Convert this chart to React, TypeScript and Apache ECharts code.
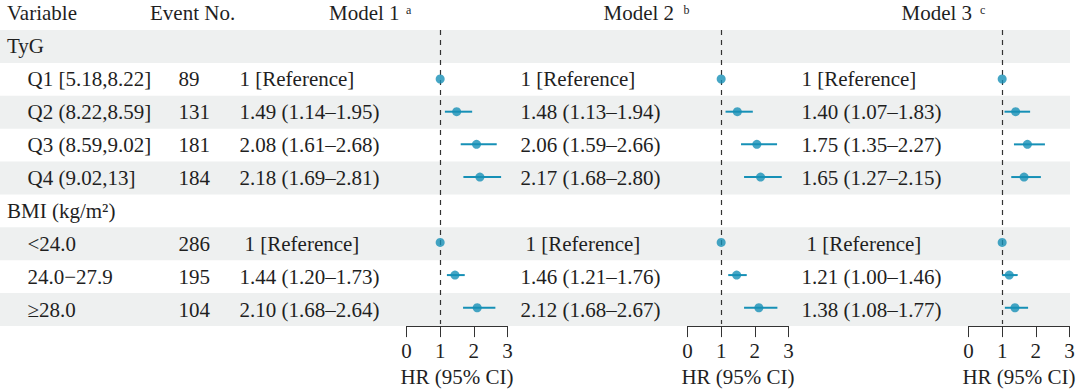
import React, { useEffect, useRef } from "react";
import * as echarts from "echarts";

// ---------- data ----------
const rowLabels = [
  "TyG",
  "Q1 [5.18,8.22]",
  "Q2 (8.22,8.59]",
  "Q3 (8.59,9.02]",
  "Q4 (9.02,13]",
  "BMI (kg/m²)",
  "<24.0",
  "24.0−27.9",
  "≥28.0",
];
const headerRows = [true, false, false, false, false, true, false, false, false];
const eventNo = [null, 89, 131, 181, 184, null, 286, 195, 104];

const model1HR = [null, 1, 1.49, 2.08, 2.18, null, 1, 1.44, 2.1];
const model1Low = [null, null, 1.14, 1.61, 1.69, null, null, 1.2, 1.68];
const model1High = [null, null, 1.95, 2.68, 2.81, null, null, 1.73, 2.64];

const model2HR = [null, 1, 1.48, 2.06, 2.17, null, 1, 1.46, 2.12];
const model2Low = [null, null, 1.13, 1.59, 1.68, null, null, 1.21, 1.68];
const model2High = [null, null, 1.94, 2.66, 2.8, null, null, 1.76, 2.67];

const model3HR = [null, 1, 1.4, 1.75, 1.65, null, 1, 1.21, 1.38];
const model3Low = [null, null, 1.07, 1.35, 1.27, null, null, 1.0, 1.08];
const model3High = [null, null, 1.83, 2.27, 2.15, null, null, 1.46, 1.77];

const modelNames = ["Model 1", "Model 2", "Model 3"];
const modelNotes = ["a", "b", "c"];
const columnTitles = ["Variable", "Event No."];
const hrTicks = [0, 1, 2, 3];
const axisTitle = "HR (95% CI)";
const referenceText = "1 [Reference]";

// ---------- layout ----------
const W = 1080;
const H = 392;
const GRID_TOP = 30;
const GRID_H = 296;
const TABLE_RIGHT = 1070;
const PANEL_LEFT = [406.5, 687.5, 968.5];
const PANEL_W = 101;
const HR_TEXT_X = [239.5, 520.5, 801.5];
const BMI_REF_SHIFT = 5;
const LABEL_X_HEAD = 7;
const LABEL_X_SUB = 27.5;
const EVENT_X = 178.5;
const MODEL_TITLE_X = [329, 603.5, 901.5];
const NOTE_X = [406, 683.5, 980];
const FS = 21;
const FONT = "Liberation Serif, serif";
const TEXT = "#1f1f1f";
const BLUE = "#1690b6";
const BAND = "#eef0f0";

const models = [
  { hr: model1HR, lo: model1Low, hi: model1High },
  { hr: model2HR, lo: model2Low, hi: model2High },
  { hr: model3HR, lo: model3Low, hi: model3High },
];

const fmt = (v: number) => v.toFixed(2);
const hrText = (m: number, i: number): string | null => {
  const d = models[m];
  const hr = d.hr[i];
  if (hr == null) return null;
  const lo = d.lo[i];
  const hi = d.hi[i];
  if (lo == null || hi == null) return referenceText;
  return `${fmt(hr)} (${fmt(lo)}–${fmt(hi)})`;
};

const txt = (text: string, x: number, y: number, size = FS, align = "left") => ({
  type: "text",
  x,
  y,
  silent: true,
  style: {
    text,
    fill: TEXT,
    fontSize: size,
    fontFamily: FONT,
    align,
    verticalAlign: "middle",
  },
});

export default function App() {
  const ref = useRef<HTMLDivElement>(null);

  useEffect(() => {
    document.body.style.margin = "0";
    if (!ref.current) return;
    const chart = echarts.init(ref.current, undefined, { renderer: "svg" });

    const grids: any[] = [
      { left: 0, top: GRID_TOP, width: TABLE_RIGHT, height: GRID_H },
      ...PANEL_LEFT.map((l) => ({ left: l, top: GRID_TOP, width: PANEL_W, height: GRID_H })),
    ];

    const xAxes: any[] = [
      { gridIndex: 0, type: "value", min: 0, max: TABLE_RIGHT, show: false },
      ...PANEL_LEFT.map((_, k) => ({
        gridIndex: k + 1,
        type: "value",
        min: hrTicks[0],
        max: hrTicks[hrTicks.length - 1],
        interval: 1,
        offset: 2,
        axisLine: { show: true, lineStyle: { color: "#333", width: 1 } },
        axisTick: { show: true, length: 11, lineStyle: { color: "#333", width: 1 } },
        axisLabel: { fontSize: FS, fontFamily: FONT, color: TEXT, margin: 14 },
        splitLine: { show: false },
        name: axisTitle,
        nameLocation: "middle",
        nameGap: 39,
        nameTextStyle: { fontSize: FS, fontFamily: FONT, color: TEXT },
      })),
    ];

    const yAxes: any[] = [0, 1, 2, 3].map((g) => ({
      gridIndex: g,
      type: "category",
      data: rowLabels,
      inverse: true,
      axisLine: { show: false },
      axisTick: { show: false },
      axisLabel: { show: false },
      splitLine: { show: false },
      splitArea: g === 0 ? { show: true, areaStyle: { color: [BAND, "rgba(0,0,0,0)"] } } : { show: false },
    }));

    const tableSeries = {
      type: "custom",
      xAxisIndex: 0,
      yAxisIndex: 0,
      silent: true,
      data: rowLabels.map((_, i) => [0, i]),
      encode: { x: 0, y: 1 },
      renderItem: (params: any, api: any) => {
        const i = params.dataIndex;
        const y = api.coord([0, i])[1];
        const children: any[] = [];
        children.push(txt(rowLabels[i], headerRows[i] ? LABEL_X_HEAD : LABEL_X_SUB, y));
        if (eventNo[i] != null) children.push(txt(String(eventNo[i]), EVENT_X, y));
        for (let m = 0; m < 3; m++) {
          const t = hrText(m, i);
          if (t == null) continue;
          const shift = t === referenceText && i > 5 ? BMI_REF_SHIFT : 0;
          children.push(txt(t, HR_TEXT_X[m] + shift, y));
        }
        return { type: "group", children };
      },
    };

    const ciSeries = models.map((d, k) => ({
      type: "custom",
      xAxisIndex: k + 1,
      yAxisIndex: k + 1,
      silent: true,
      z: 2,
      data: rowLabels
        .map((_, i) => (d.lo[i] != null && d.hi[i] != null ? [d.lo[i], d.hi[i], i] : null))
        .filter((v) => v != null),
      encode: { x: [0, 1], y: 2 },
      renderItem: (_p: any, api: any) => {
        const a = api.coord([api.value(0), api.value(2)]);
        const b = api.coord([api.value(1), api.value(2)]);
        return {
          type: "line",
          shape: { x1: a[0], y1: a[1], x2: b[0], y2: b[1] },
          style: { stroke: BLUE, lineWidth: 2 },
        };
      },
    }));

    const pointSeries = models.map((d, k) => ({
      type: "scatter",
      xAxisIndex: k + 1,
      yAxisIndex: k + 1,
      silent: true,
      z: 3,
      symbol: "circle",
      symbolSize: 9,
      itemStyle: { color: BLUE },
      data: rowLabels
        .map((_, i) => (d.hr[i] != null ? [d.hr[i], i] : null))
        .filter((v) => v != null),
      markLine: {
        silent: true,
        z: 1,
        symbol: ["none", "none"],
        label: { show: false },
        lineStyle: { type: [5, 5], color: "#333", width: 1.2 },
        data: [{ xAxis: 1 }],
      },
    }));

    const graphic: any[] = [
      txt(columnTitles[0], LABEL_X_HEAD, 13),
      txt(columnTitles[1], 150, 13),
      ...modelNames.map((n, k) => txt(n, MODEL_TITLE_X[k], 13)),
      ...modelNotes.map((n, k) => txt(n, NOTE_X[k], 10, 12)),
    ];

    chart.setOption({
      animation: false,
      grid: grids,
      xAxis: xAxes,
      yAxis: yAxes,
      series: [tableSeries, ...ciSeries, ...pointSeries],
      graphic,
    });

    return () => chart.dispose();
  }, []);

  return <div ref={ref} style={{ width: W, height: H, background: "#fff" }} />;
}
